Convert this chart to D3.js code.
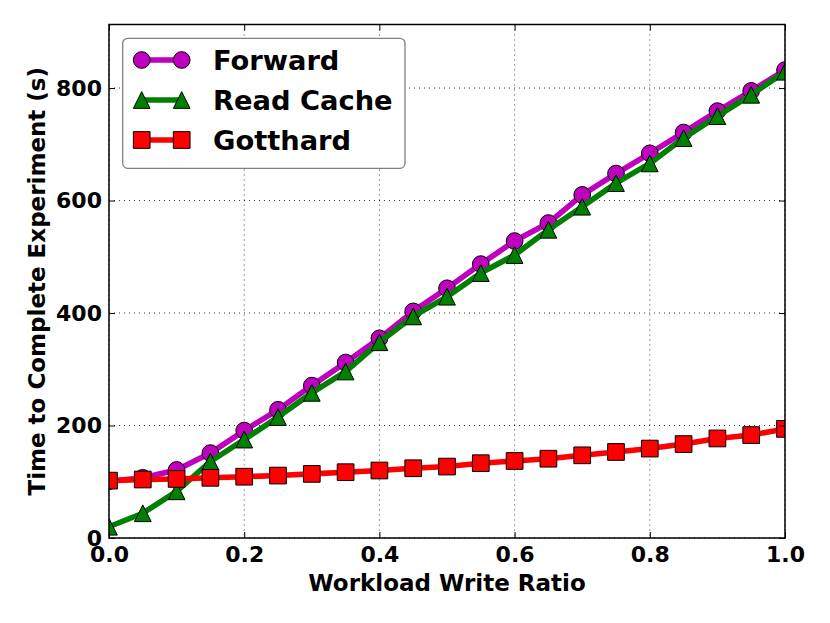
<!DOCTYPE html>
<html>
<head>
<meta charset="utf-8">
<script src="https://cdn.jsdelivr.net/npm/d3@7"></script>
<style>
  html, body { margin: 0; padding: 0; background: #fff; }
  svg { display: block; font-family: "DejaVu Sans", sans-serif; font-weight: bold; }
</style>
</head>
<body>
<svg id="chart" width="830" height="623"></svg>
<script>
const writeRatio = [0.0, 0.05, 0.1, 0.15, 0.2, 0.25, 0.3, 0.35, 0.4, 0.45, 0.5,
                    0.55, 0.6, 0.65, 0.7, 0.75, 0.8, 0.85, 0.9, 0.95, 1.0];
const forwardTimes = [101, 107, 121, 151, 191, 228, 271, 312, 355, 403, 444,
                      487, 528, 560, 610, 648, 684, 721, 759, 795, 832];
const readCacheTimes = [20, 44, 83, 136, 175, 215, 258, 296, 348, 394, 429,
                        471, 503, 548, 589, 631, 666, 711, 750, 788, 829];
const gotthardTimes = [102, 104, 105, 107, 109, 111, 114, 117, 120, 124, 127,
                       133, 137, 141, 147, 153, 159, 167, 177, 183, 194];
const xTicks = [0.0, 0.2, 0.4, 0.6, 0.8, 1.0];
const yTicks = [0, 200, 400, 600, 800];
const seriesNames = ["Forward", "Read Cache", "Gotthard"];
const seriesColors = ["#bf00bf", "#008000", "#ff0000"];
const seriesMarkers = ["circle", "triangle", "square"];
const xLabel = "Workload Write Ratio";
const yLabel = "Time to Complete Experiment (s)";

const series = [forwardTimes, readCacheTimes, gotthardTimes].map((vals, i) => ({
  name: seriesNames[i], color: seriesColors[i], marker: seriesMarkers[i],
  points: writeRatio.map((x, j) => ({x, y: vals[j]}))
}));

const svg = d3.select("#chart");
const plot = {left: 109, right: 785, top: 24.5, bottom: 538};
const x = d3.scaleLinear().domain([0, 1]).range([plot.left, plot.right]);
const y = d3.scaleLinear().domain([0, 913]).range([plot.bottom, plot.top]);

// grid
const grid = svg.append("g");
xTicks.forEach(t => grid.append("line")
  .attr("x1", x(t)).attr("x2", x(t)).attr("y1", plot.top).attr("y2", plot.bottom)
  .attr("stroke", "#000").attr("stroke-width", 0.8).attr("stroke-dasharray", "1,4"));
yTicks.forEach(t => grid.append("line")
  .attr("x1", plot.left).attr("x2", plot.right).attr("y1", y(t)).attr("y2", y(t))
  .attr("stroke", "#000").attr("stroke-width", 0.8).attr("stroke-dasharray", "1,4"));

// clip
svg.append("defs").append("clipPath").attr("id", "clip").append("rect")
  .attr("x", plot.left).attr("y", plot.top)
  .attr("width", plot.right - plot.left).attr("height", plot.bottom - plot.top);

const msize = 16.7;
function markerPath(type) {
  if (type === "circle") return d3.symbol().type(d3.symbolCircle).size(Math.PI * (msize/2) ** 2)();
  const h = msize / 2;
  if (type === "square") return `M${-h},${-h}H${h}V${h}H${-h}Z`;
  return `M0,${-h}L${h},${h}L${-h},${h}Z`;
}

const line = d3.line().x(d => x(d.x)).y(d => y(d.y));
const data = svg.append("g").attr("clip-path", "url(#clip)");
series.forEach(s => {
  const g = data.append("g");
  g.append("path").datum(s.points).attr("d", line)
    .attr("fill", "none").attr("stroke", s.color).attr("stroke-width", 5.6)
    .attr("stroke-linejoin", "round");
  g.selectAll("path.m").data(s.points).enter().append("path").attr("class", "m")
    .attr("d", markerPath(s.marker))
    .attr("transform", d => `translate(${x(d.x)},${y(d.y)})`)
    .attr("fill", s.color).attr("stroke", "#000").attr("stroke-width", 1);
});

// frame
svg.append("rect").attr("x", plot.left).attr("y", plot.top)
  .attr("width", plot.right - plot.left).attr("height", plot.bottom - plot.top)
  .attr("fill", "none").attr("stroke", "#000").attr("stroke-width", 1.5);

// axes with inward ticks
const xAxisB = d3.axisBottom(x).tickValues(xTicks).tickFormat(d3.format(".1f")).tickSizeInner(-6).tickSizeOuter(0).tickPadding(8);
const gx = svg.append("g").attr("transform", `translate(0,${plot.bottom})`).call(xAxisB);
const yAxisL = d3.axisLeft(y).tickValues(yTicks).tickFormat(d3.format("d")).tickSizeInner(-6).tickSizeOuter(0).tickPadding(7);
const gy = svg.append("g").attr("transform", `translate(${plot.left},0)`).call(yAxisL);
const gxt = svg.append("g").attr("transform", `translate(0,${plot.top})`)
  .call(d3.axisTop(x).tickValues(xTicks).tickFormat("").tickSizeInner(-6).tickSizeOuter(0));
const gyr = svg.append("g").attr("transform", `translate(${plot.right},0)`)
  .call(d3.axisRight(y).tickValues(yTicks).tickFormat("").tickSizeInner(-6).tickSizeOuter(0));
[gx, gy, gxt, gyr].forEach(g => {
  g.select(".domain").remove();
  g.selectAll(".tick line").attr("stroke", "#000").attr("stroke-width", 1);
  g.selectAll("text").attr("font-family", "DejaVu Sans").attr("font-weight", "bold")
    .attr("font-size", 22).attr("fill", "#000");
});

// axis labels
svg.append("text").attr("x", (plot.left + plot.right) / 2).attr("y", 591)
  .attr("text-anchor", "middle").attr("font-size", 23).text(xLabel);
svg.append("text").attr("transform", `translate(45,${(plot.top + plot.bottom) / 2}) rotate(-90)`)
  .attr("text-anchor", "middle").attr("font-size", 23).text(yLabel);

// legend
const lg = svg.append("g");
lg.append("rect").attr("x", 122.7).attr("y", 38.3).attr("width", 282.3).attr("height", 130)
  .attr("rx", 5).attr("fill", "#fff").attr("stroke", "#808080").attr("stroke-width", 1.3);
series.forEach((s, i) => {
  const cy = 60 + i * 40;
  lg.append("line").attr("x1", 141.7).attr("x2", 181.7).attr("y1", cy).attr("y2", cy)
    .attr("stroke", s.color).attr("stroke-width", 5.6);
  [141.7, 181.7].forEach(cx => lg.append("path").attr("d", markerPath(s.marker))
    .attr("transform", `translate(${cx},${cy})`)
    .attr("fill", s.color).attr("stroke", "#000").attr("stroke-width", 1));
  lg.append("text").attr("x", 213).attr("y", cy + 10).attr("font-size", 27.3).text(s.name);
});
</script>
</body>
</html>
